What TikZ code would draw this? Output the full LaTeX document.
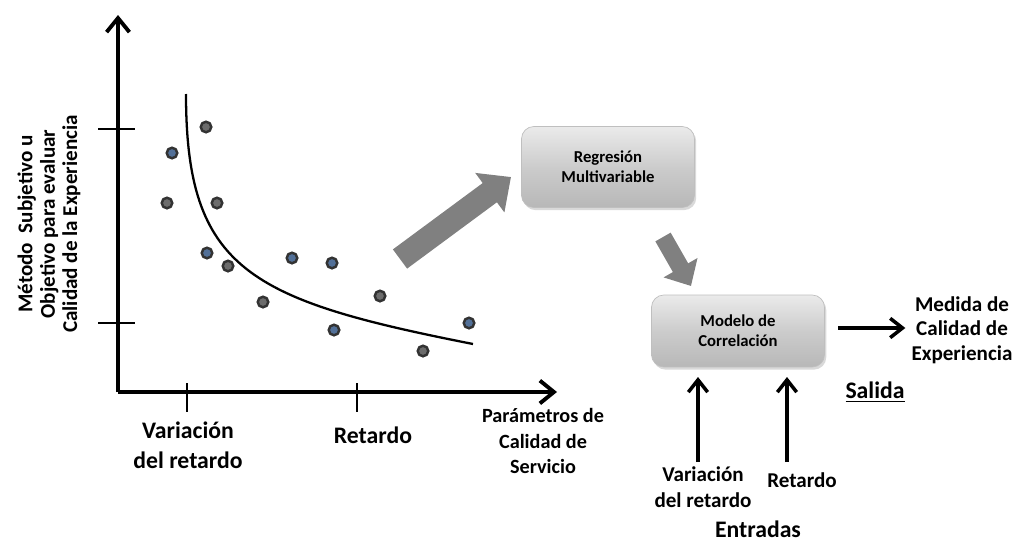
\documentclass[tikz,border=0pt]{standalone}
\usepackage{fontspec}
\setmainfont{Carlito}
\usetikzlibrary{arrows.meta,shadows}

\definecolor{azulp}{RGB}{82,112,152}
\definecolor{grisp}{RGB}{108,108,108}
\definecolor{flechagris}{RGB}{128,128,128}

\tikzset{
  eje/.style={line width=2.2pt, -{Straight Barb[length=8pt,width=13pt]}},
  flecha/.style={line width=2pt, -{Straight Barb[length=7pt,width=11pt]}},
  caja/.style={rounded corners=7pt, minimum width=3.46cm, align=center,
    top color=black!8, bottom color=black!28, middle color=black!20,
    draw=black!25, drop shadow={opacity=0.3, shadow xshift=1pt, shadow yshift=-1.5pt},
    font=\bfseries\fontsize{9.5}{11.5}\selectfont},
  punto/.style={circle, draw=black!80, line width=1.4pt, inner sep=0pt, minimum size=6pt},
  etiq/.style={align=center, font=\bfseries\fontsize{12}{14}\selectfont}
}

\begin{document}
\begin{tikzpicture}[x=0.02cm, y=-0.02cm]
  \useasboundingbox (0,0) rectangle (1014,541);

  % ejes
  \coordinate (O) at (118,392);
  \coordinate (ytop) at (118,15);
  \coordinate (xend) at (557,392);
  \draw[eje] (O) -- (ytop);
  \draw[eje] (O) -- (xend);
  \draw[line width=1.3pt] (98,129) -- (135,129);
  \draw[line width=1.3pt] (98,323) -- (135,323);
  \draw[line width=1.3pt] (187,383) -- (187,412);
  \draw[line width=1.3pt] (357,383) -- (357,412);

  % curva y puntos
  \draw[line width=1.3pt] (186,94) .. controls (186,270) and (250,300) .. (473,344);
  \foreach \x/\y/\c [count=\i] in {206/127/grisp, 172/153/azulp, 167/203/grisp,
      217/203/grisp, 207/253/azulp, 228/266/grisp, 292/258/azulp, 332/263/azulp,
      263/302/grisp, 380/296/grisp, 334/330/azulp, 469/323/azulp, 423/351/grisp}
    \node[punto, fill=\c] (d\i) at (\x,\y) {};

  % textos de los ejes
  \node[etiq, rotate=90, font=\bfseries\fontsize{12}{12.8}\selectfont] (ylab) at (49,224)
    {Método\ \ Subjetivo u\\Objetivo para evaluar\\Calidad de la Experiencia};
  \node[etiq, font=\bfseries\fontsize{13.5}{17}\selectfont] (xvar) at (188,445)
    {Variación\\del retardo};
  \node[etiq, font=\bfseries\fontsize{13.5}{17}\selectfont] (xret) at (373,435) {Retardo};
  \node[etiq, font=\bfseries\fontsize{11.5}{14.7}\selectfont] (xpar) at (543,441)
    {Parámetros de\\Calidad de\\Servicio};

  % bloques
  \node[caja, minimum height=1.62cm] (regresion) at (608,167) {Regresión\\Multivariable};
  \node[caja, minimum height=1.44cm] (modelo) at (738,331) {Modelo de\\Correlación};

  % flechas grises
  \coordinate (g1) at (400,259);
  \coordinate (g2) at (511,177);
  \coordinate (g3) at (663,237);
  \coordinate (g4) at (691,286);
  \draw[flechagris, line width=13.6pt, -{Triangle[length=15pt,width=27pt]}] (g1) -- (g2);
  \draw[flechagris, line width=10pt, -{Triangle[length=12pt,width=21.5pt]}] (g3) -- (g4);

  % salida
  \node[etiq] (medida) at (962,330) {Medida de\\Calidad de\\Experiencia};
  \node[etiq, font=\bfseries\fontsize{13.5}{16}\selectfont] (salida) at (875,392) {\underline{Salida}};
  \coordinate (o1) at (838,328);
  \draw[flecha] (o1) -- (o1 -| medida.west);

  % entradas
  \node[etiq, font=\bfseries\fontsize{12}{15}\selectfont] (inVar) at (703,487) {Variación\\del retardo};
  \node[etiq] (inRet) at (802,480) {Retardo};
  \node[etiq, font=\bfseries\fontsize{13.5}{16}\selectfont] (entradas) at (758,529) {Entradas};
  \coordinate (i1) at (698,462);
  \coordinate (i2) at (698,377);
  \coordinate (i3) at (787,462);
  \coordinate (i4) at (787,377);
  \draw[flecha] (i1) -- (i2);
  \draw[flecha] (i3) -- (i4);
\end{tikzpicture}
\end{document}
